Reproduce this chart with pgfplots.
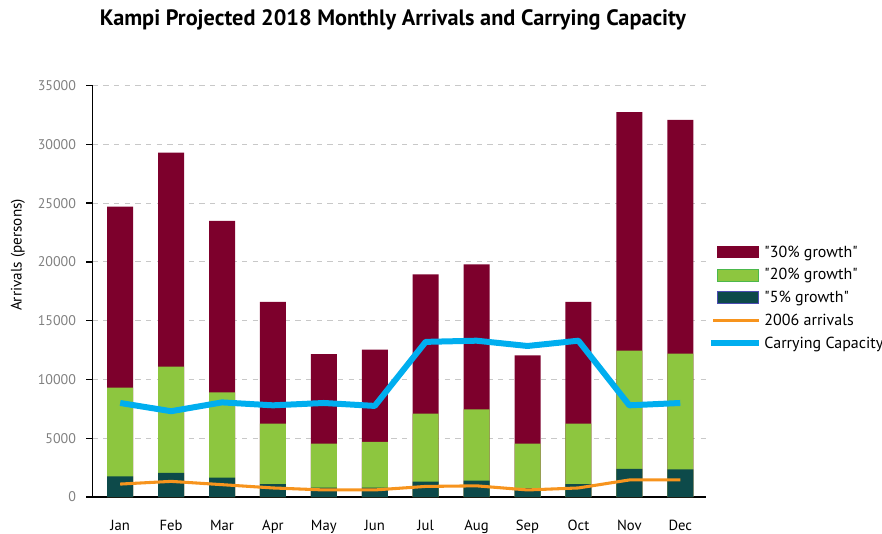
\documentclass[border=0pt]{standalone}
\usepackage{pgfplots}
\pgfplotsset{compat=1.18}
\usepackage{fontspec}
\setmainfont{PT Sans}
\definecolor{c30}{HTML}{7D002C}
\definecolor{c20}{HTML}{8DC63F}
\definecolor{c5}{HTML}{0D4A4A}
\definecolor{corange}{HTML}{F7941D}
\definecolor{ccyan}{HTML}{00AEEF}
\definecolor{tickgray}{HTML}{808080}
\definecolor{gridgray}{HTML}{C8C8C8}
\begin{document}
\begin{tikzpicture}[x=0.75pt,y=0.75pt]
\useasboundingbox (0,0) rectangle (882,533);
\node[font=\fontsize{16.7}{19}\selectfont\bfseries] at (393,513) {Kampi Projected 2018 Monthly Arrivals and Carrying Capacity};
\node[rotate=90,font=\fontsize{11.4}{13}\selectfont] at (18,278) {Arrivals (persons)};
\begin{axis}[
  at={(69.525pt,27pt)}, anchor=south west,
  scale only axis, width=459.75pt, height=308.5pt,
  xmin=-0.54, xmax=11.5, ymin=0, ymax=35000,
  axis x line*=bottom, axis y line*=left,
  axis line style={black, line width=1.1pt},
  xtick={0,...,11},
  xticklabels={Jan,Feb,Mar,Apr,May,Jun,Jul,Aug,Sep,Oct,Nov,Dec},
  x tick style={draw=none},
  xticklabel style={font=\fontsize{11}{13}\selectfont, black, yshift=-9pt},
  ytick={0,5000,...,35000},
  y tick style={black, line width=1.1pt},
  tick align=outside, major tick length=5pt,
  yticklabel style={font=\fontsize{10.5}{12}\selectfont, text=tickgray, xshift=-4pt},
  /pgf/number format/assume math mode=true,
  scaled y ticks=false,
  yticklabel={\pgfmathprintnumber[fixed,1000 sep={}]{\tick}},
  ymajorgrids,
  grid style={gridgray, dash pattern=on 4pt off 4pt, line width=0.8pt},
  legend style={at={(1.003,0.618)}, anchor=north west, draw=none, fill=none,
    font=\fontsize{12}{14}\selectfont, row sep=3pt, inner sep=0pt,
    /tikz/every even column/.append style={column sep=1pt}},
  legend cell align=left,
]
\addplot[ybar, bar width=19.5pt, fill=c30, draw=none,
  legend image code/.code={\fill[c30] (0pt,-4.5pt) rectangle (31pt,4.5pt);}]
  coordinates {(0,24700) (1,29300) (2,23500) (3,16600) (4,12150) (5,12550) (6,18950) (7,19800) (8,12050) (9,16600) (10,32750) (11,32100)};
\addlegendentry{\textquotedbl30\% growth\textquotedbl}
\addplot[ybar, bar width=19.5pt, fill=c20, draw=none,
  legend image code/.code={\draw[fill=c20, draw=green!60!black!70, line width=0.8pt] (0pt,-4.5pt) rectangle (31pt,4.5pt);}]
  coordinates {(0,9300) (1,11100) (2,8900) (3,6250) (4,4550) (5,4700) (6,7100) (7,7450) (8,4550) (9,6250) (10,12450) (11,12200)};
\addlegendentry{\textquotedbl20\% growth\textquotedbl}
\addplot[ybar, bar width=19.5pt, fill=c5, draw=none,
  legend image code/.code={\draw[fill=c5, draw=blue!40!gray, line width=0.8pt] (0pt,-4.5pt) rectangle (31pt,4.5pt);}]
  coordinates {(0,1750) (1,2050) (2,1650) (3,1100) (4,800) (5,800) (6,1300) (7,1400) (8,750) (9,1100) (10,2400) (11,2350)};
\addlegendentry{\textquotedbl5\% growth\textquotedbl}
\addplot[corange, line width=2.3pt, line join=round,
  legend image code/.code={\draw[corange, line width=2.3pt] (-3pt,0pt) -- (31pt,0pt);}]
  coordinates {(0,1100) (1,1330) (2,1050) (3,770) (4,600) (5,600) (6,900) (7,950) (8,600) (9,770) (10,1450) (11,1450)};
\addlegendentry{2006 arrivals}
\addplot[ccyan, line width=4.5pt, line join=round,
  legend image code/.code={\draw[ccyan, line width=4.5pt] (-5pt,0pt) -- (31pt,0pt);}]
  coordinates {(0,8000) (1,7300) (2,8050) (3,7800) (4,8000) (5,7750) (6,13200) (7,13300) (8,12850) (9,13300) (10,7800) (11,8000)};
\addlegendentry{Carrying Capacity}
\end{axis}
\end{tikzpicture}
\end{document}
